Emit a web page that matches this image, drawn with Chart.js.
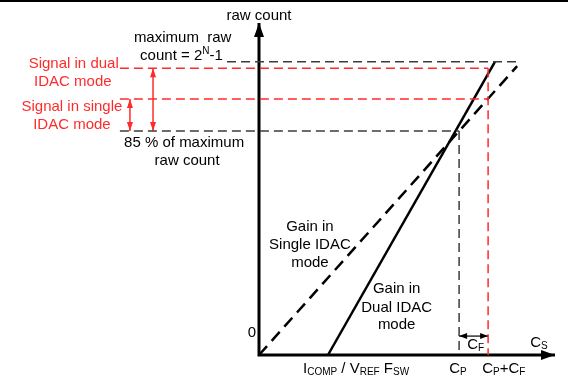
<!DOCTYPE html>
<html lang="en-US">
<head>
  <meta charset="utf-8">
  <title>raw count vs Cs</title>
  <script src="https://cdn.jsdelivr.net/npm/chart.js@4.4.1/dist/chart.umd.min.js"></script>
  <style>
    body { margin: 0; background: #fff; }
    .wrapper { width: 568px; height: 377px; position: relative; }
  </style>
</head>
<body>
  <div class="wrapper">
    <canvas id="chart-0"></canvas>
  </div>

  <script>
    // raw count levels (y) and where each dashed guide starts / stops (x)
    let levelNames = ['maximum raw count', 'signal dual IDAC', 'signal single IDAC', '85 % of maximum'];
    let levelValues = [88.3, 86.4, 77.1, 67.5];
    let levelStart = [-10.8, -47, -47, -47];
    let levelEnd = [88.5, 77.4, 77.4, 67.6];

    // capacitance marks on the Cs axis
    let capNames = ['ICOMP / VREF FSW', 'CP', 'CP+CF'];
    let capValues = [23.3, 67.6, 77.4];

    // gain lines
    let dualGainX = [23.3, 79.7];
    let dualGainY = [0, 88.3];
    let singleGainX = [0, 87.2];
    let singleGainY = [0, 87.0];

    // signal span arrows
    let dualArrowX = -35.8;
    let singleArrowX = -43.6;
    let cfArrowY = 5.7;

    let RED = '#ff2b2b';
    let GREY = '#3c3c3c';
    let FONT = '"Liberation Sans", Arial, sans-serif';

    function pts(xs, ys) {
      return xs.map(function(x, i) { return {x: x, y: ys[i]}; });
    }

    function guide(data, color, extra) {
      return Object.assign({
        data: data,
        showLine: true,
        borderColor: color,
        borderWidth: 1.5,
        borderDash: [9, 5],
        pointRadius: 0,
        fill: false,
        clip: false
      }, extra || {});
    }

    let datasets = [];
    levelValues.forEach(function(v, i) {
      let c = (i === 1 || i === 2) ? RED : GREY;
      datasets.push(guide(pts([levelStart[i], levelEnd[i]], [v, v]), c, {label: levelNames[i]}));
    });
    datasets.push(guide(pts([capValues[1], capValues[1]], [levelValues[3], 0]), GREY, {label: 'CP'}));
    datasets.push(guide(pts([capValues[2], capValues[2]], [levelValues[1], 0]), RED, {label: 'CP+CF'}));
    datasets.push(guide(pts(singleGainX, singleGainY), '#000', {label: 'single gain', borderWidth: 2.5, borderDash: [12, 7]}));
    datasets.push(guide(pts(dualGainX, dualGainY), '#000', {label: 'dual gain', borderWidth: 2.5, borderDash: []}));
    // axes
    datasets.push(guide(pts([0, 0, 100], [100, 0, 0]), '#000', {label: 'axes', borderWidth: 3, borderDash: [],
      borderJoinStyle: 'miter', arrows: 'both', arrowLen: 14, arrowHalf: 5}));
    // span arrows
    datasets.push(guide(pts([dualArrowX, dualArrowX], [levelValues[1], levelValues[3]]), RED, {label: 'dual span',
      borderDash: [], arrows: 'both', arrowLen: 9, arrowHalf: 3}));
    datasets.push(guide(pts([singleArrowX, singleArrowX], [levelValues[2], levelValues[3]]), RED, {label: 'single span',
      borderDash: [], arrows: 'both', arrowLen: 9, arrowHalf: 3}));
    datasets.push(guide(pts([capValues[1], capValues[2]], [cfArrowY, cfArrowY]), '#000', {label: 'CF span',
      borderDash: [], borderWidth: 1.2, arrows: 'both', arrowLen: 8, arrowHalf: 3}));

    // text: [x, y (baseline), parts, colour]
    let labels = [
      [0, 100.9, [['raw count']]],
      [-25.8, 94.3, [['maximum  raw']]],
      [-26.2, 88.9, [['count = 2'], ['N', 'sup'], ['-1']]],
      [-62.6, 86.4, [['Signal in dual']], RED],
      [-62.9, 81.1, [['IDAC mode']], RED],
      [-63.2, 73.5, [['Signal in single']], RED],
      [-63.2, 68.1, [['IDAC mode']], RED],
      [-25.3, 62.7, [['85 % of maximum']]],
      [-24.3, 57.2, [['raw count']]],
      [17.2, 37.4, [['Gain in']]],
      [17.2, 31.9, [['Single IDAC']]],
      [17.2, 26.5, [['mode']]],
      [46.5, 18.7, [['Gain in']]],
      [46.5, 13.0, [['Dual IDAC']]],
      [46.5, 7.8, [['mode']]],
      [-2.4, 5.4, [['0']]],
      [32.8, -5.3, [['I'], ['COMP', 'sub'], [' / V'], ['REF', 'sub'], [' F'], ['SW', 'sub']]],
      [67.2, -5.4, [['C'], ['P', 'sub']]],
      [82.7, -5.4, [['C'], ['P', 'sub'], ['+C'], ['F', 'sub']]],
      [73.2, 1.8, [['C'], ['F', 'sub']]],
      [94.6, 2.5, [['C'], ['S', 'sub']]]
    ];

    function partFont(p) {
      return (p[1] ? 10 : 15) + 'px ' + FONT;
    }

    function drawRich(ctx, parts, cx, by, color) {
      let w = 0;
      parts.forEach(function(p) { ctx.font = partFont(p); w += ctx.measureText(p[0]).width; });
      let x = cx - w / 2;
      ctx.fillStyle = color || '#000';
      ctx.textBaseline = 'alphabetic';
      ctx.textAlign = 'left';
      parts.forEach(function(p) {
        ctx.font = partFont(p);
        let dy = p[1] === 'sub' ? 2 : (p[1] === 'sup' ? -6 : 0);
        ctx.fillText(p[0], x, by + dy);
        x += ctx.measureText(p[0]).width;
      });
    }

    function head(ctx, tip, from, len, half, color) {
      let dx = tip.x - from.x, dy = tip.y - from.y;
      let d = Math.sqrt(dx * dx + dy * dy) || 1;
      let ux = dx / d, uy = dy / d;
      let bx = tip.x - ux * len, by = tip.y - uy * len;
      ctx.fillStyle = color;
      ctx.beginPath();
      ctx.moveTo(tip.x, tip.y);
      ctx.lineTo(bx - uy * half, by + ux * half);
      ctx.lineTo(bx + uy * half, by - ux * half);
      ctx.closePath();
      ctx.fill();
    }

    let annotate = {
      id: 'annotate',
      beforeDraw: function(chart) {
        let ctx = chart.ctx;
        ctx.save();
        ctx.fillStyle = '#000';
        ctx.fillRect(0, 0, chart.width, 2);
        ctx.restore();
      },
      afterDatasetsDraw: function(chart) {
        let ctx = chart.ctx;
        ctx.save();
        chart.data.datasets.forEach(function(ds, i) {
          if (!ds.arrows) return;
          let p = chart.getDatasetMeta(i).data;
          let n = p.length;
          head(ctx, p[n - 1], p[n - 2], ds.arrowLen, ds.arrowHalf, ds.borderColor);
          if (ds.arrows === 'both') head(ctx, p[0], p[1], ds.arrowLen, ds.arrowHalf, ds.borderColor);
        });
        let xs = chart.scales.x, ys = chart.scales.y;
        labels.forEach(function(l) {
          drawRich(ctx, l[2], xs.getPixelForValue(l[0]), ys.getPixelForValue(l[1]), l[3]);
        });
        ctx.restore();
      }
    };

    let chart = new Chart('chart-0', {
      type: 'scatter',
      data: {datasets: datasets},
      options: {
        responsive: true,
        maintainAspectRatio: false,
        animation: false,
        events: [],
        layout: {padding: {left: 0, right: 13, top: 23, bottom: 22}},
        scales: {
          x: {type: 'linear', min: -87.5, max: 100, display: false},
          y: {type: 'linear', min: 0, max: 100, display: false}
        },
        plugins: {
          legend: {display: false},
          tooltip: {enabled: false}
        }
      },
      plugins: [annotate]
    });
  </script>
</body>
</html>
